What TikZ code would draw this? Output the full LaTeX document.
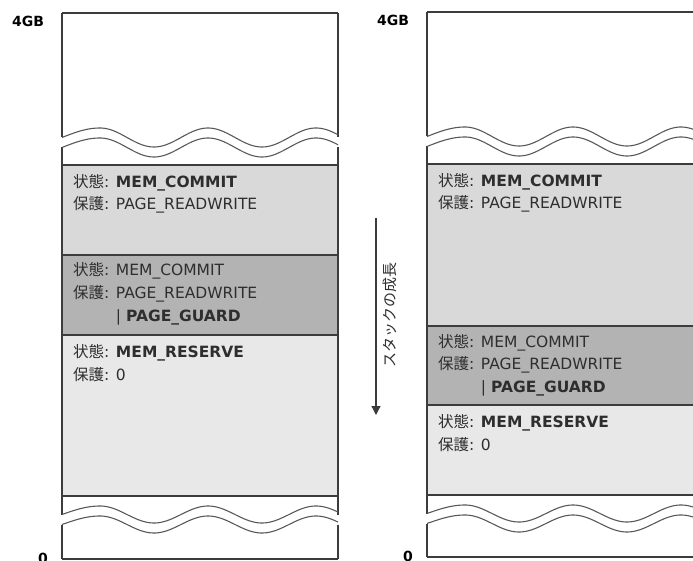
\documentclass[tikz,border=0pt]{standalone}
\usepackage{fontspec}
\setmainfont{DejaVu Sans}
\newfontfamily\jpfont{Noto Sans CJK JP}
\usetikzlibrary{arrows.meta}

\definecolor{lightband}{HTML}{D9D9D9}
\definecolor{guardband}{HTML}{B3B3B3}
\definecolor{reserveband}{HTML}{E8E8E8}
\definecolor{edgegray}{HTML}{3C3C3C}
\definecolor{textgray}{HTML}{2E2E2E}

\tikzset{
    wall/.style={ draw=edgegray, line width=1.2pt },
    wave/.style={ draw=edgegray!85, line width=1.1pt },
    memtext/.style={ anchor=base west, inner sep=0pt, text=textgray, font=\fontsize{15.5pt}{18pt}\selectfont },
    addr/.style={ inner sep=0pt, text=black, font=\fontsize{14pt}{16pt}\selectfont\bfseries },
    growarrow/.style={ draw=edgegray, line width=1.3pt, -{Triangle[width=9pt, length=9pt]} }
}

\newcommand{\jp}[1]{{\jpfont #1}}

\begin{document}
\begin{tikzpicture}[ x=1pt, y=-1pt ]

	\useasboundingbox (0,0) rectangle (693,561);
	\clip (0,0) rectangle (693,561);

	% one column per view: name / walls / band borders
	\foreach \c/\xa/\xb/\ya/\yb/\yc/\yd/\ye/\yf in {L/62/338/13/165/255/335/496/559, R/427/703/12/164/326/405/495/557} {

		\pgfmathsetmacro\wa{\yb-27.5}
		\pgfmathsetmacro\wb{\ye+18.5}
		\pgfmathsetmacro\wl{\xb-\xa}

		\fill[ white ] (\xa,\ya) rectangle (\xb,\yb);
		\fill[ lightband ] (\xa,\yb) rectangle (\xb,\yc);
		\fill[ guardband ] (\xa,\yc) rectangle (\xb,\yd);
		\fill[ reserveband ] (\xa,\yd) rectangle (\xb,\ye);
		\fill[ white ] (\xa,\ye) rectangle (\xb,\yf);

		\foreach \yy in {\ya,\yb,\yc,\yd,\ye,\yf}
			\draw[ wall ] (\xa,\yy) -- (\xb,\yy);

		\foreach \xx in {\xa,\xb} {
			\draw[ wall ] (\xx,\ya) -- (\xx,\wa);
			\draw[ wall ] (\xx,\wa+10) -- (\xx,\wb);
			\draw[ wall ] (\xx,\wb+10) -- (\xx,\yf);
		}

		% cut marks
		\foreach \off in {0,10} {
			\draw[ wave ] plot[ domain=0:\wl, samples=140 ] ({\xa+\x}, {\wa+\off-9.5*sin(\x<38 ? \x/38*90 : 90+(\x-38)/27*90)});
			\draw[ wave ] plot[ domain=0:\wl, samples=140 ] ({\xa+\x}, {\wb+\off-8.5*sin(\x<38 ? \x/38*90 : 90+(\x-38)/27*90)});
		}

		\node[ memtext ] (\c-st1) at (\xa+11, \yb+22.5) {\jp{状態}: \textbf{MEM\_COMMIT}};
		\node[ memtext ] (\c-pr1) at (\xa+11, \yb+45) {\jp{保護}: PAGE\_READWRITE};

		\node[ memtext ] (\c-st2) at (\xa+11, \yc+21) {\jp{状態}: MEM\_COMMIT};
		\node[ memtext ] (\c-pr2) at (\xa+11, \yc+43.5) {\jp{保護}: PAGE\_READWRITE};
		\node[ memtext ] (\c-gd2) at (\xa+11, \yc+66) {\phantom{\jp{保護}: }| \textbf{PAGE\_GUARD}};

		\node[ memtext ] (\c-st3) at (\xa+11, \yd+22.5) {\jp{状態}: \textbf{MEM\_RESERVE}};
		\node[ memtext ] (\c-pr3) at (\xa+11, \yd+45.5) {\jp{保護}: 0};

		\node[ addr ] (\c-top) at (\xa-34, \ya+8) {4GB};
		\node[ addr, anchor=north ] (\c-zero) at (\xa-19, \yf-6) {0};
	}

	% stack growth
	\coordinate (growstart) at (376,218);
	\coordinate (growend) at (376,415);
	\draw[ growarrow ] (growstart) -- (growend);
	\node[ rotate=90, inner sep=0pt, text=textgray, font=\fontsize{15pt}{18pt}\selectfont\jpfont ] (growlabel) at (390,315) {スタックの成長};

\end{tikzpicture}
\end{document}
